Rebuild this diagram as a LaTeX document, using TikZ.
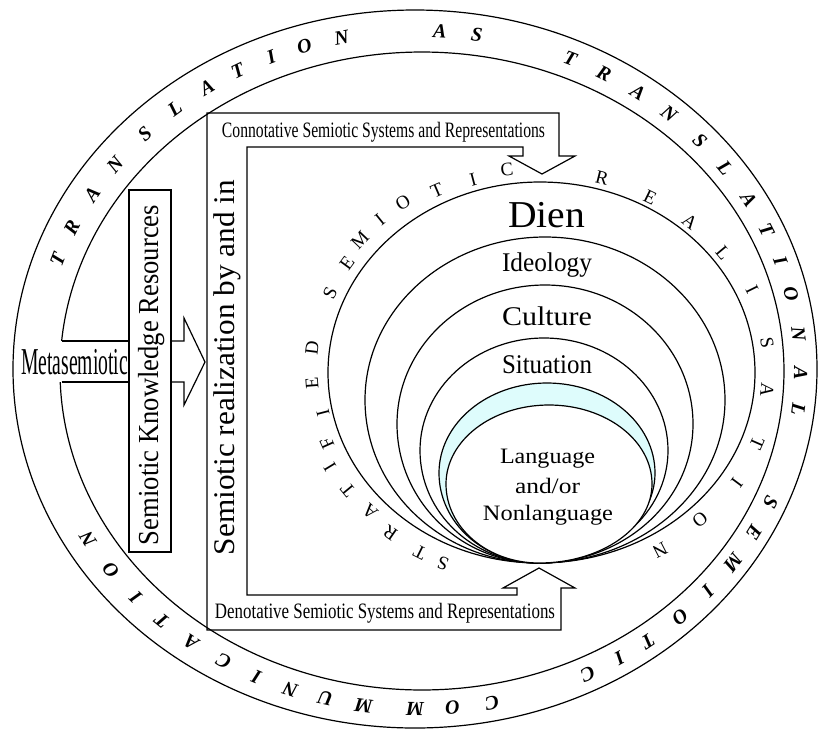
\documentclass[tikz,border=0pt]{standalone}
\usepackage{fontspec}
\setmainfont{Liberation Serif}
\usepackage{graphicx}
\definecolor{palecyan}{RGB}{222,252,252}
\newcommand{\eggshape}[5]{%
 \pgfmathsetmacro\ecy{(#5+563)/2}%
 \pgfmathsetmacro\ecA{539-0.5523*(539-#2)}%
 \pgfmathsetmacro\ecB{\ecy+0.5523*(563-\ecy)}%
 \pgfmathsetmacro\ecC{\ecy-0.5523*(\ecy-#5)}%
 \pgfmathsetmacro\ecD{#3-0.5523*(#3-#2)}%
 \pgfmathsetmacro\ecE{#3+0.5523*(#4-#3)}%
 \pgfmathsetmacro\ecF{539+0.5523*(#4-539)}%
 \path[#1] (539,563) .. controls (\ecA,563) and (#2,\ecB) .. (#2,\ecy)
   .. controls (#2,\ecC) and (\ecD,#5) .. (#3,#5)
   .. controls (\ecE,#5) and (#4,\ecC) .. (#4,\ecy)
   .. controls (#4,\ecB) and (\ecF,563) .. (539,563) -- cycle;%
}
\tikzset{
  ringbold/.style={font=\fontsize{20}{20}\selectfont\bfseries\itshape, inner sep=0pt},
  ringthin/.style={font=\fontsize{19}{19}\selectfont, inner sep=0pt},
  lbl/.style={inner sep=0pt, anchor=base},
  outline/.style={draw=black, line width=1.2pt},
}
\begin{document}
\begin{tikzpicture}[x=1pt,y=-1pt,line width=1.2pt,line join=miter]
\useasboundingbox (0,0) rectangle (819,729);

% outer ring
\draw[outline] (415,369) ellipse [x radius=402, y radius=359];
\draw[outline] plot[domain=182:534.6, samples=360, variable=\t] ({422+362*cos(\t)}, {371-319*sin(\t)});

% metasemiotic arrow and knowledge box
\coordinate (stemTL) at (61.6,341);
\coordinate (stemBL) at (61.6,382);
\draw[outline] (stemTL) -- (129,341);
\draw[outline] (stemBL) -- (129,382);
\draw[outline] (129,190) rectangle (171,552);
\draw[outline] (171,341) -- (184,341) -- (184,318) -- (205,362) -- (184,405) -- (184,382) -- (171,382);

% big frame with arrows
\draw[outline] (207,113) -- (559,113) -- (559,156) -- (575,156) -- (542,174) -- (509,156)
  -- (523,156) -- (523,147) -- (247,147) -- (247,595) -- (517,595) -- (517,588)
  -- (503,588) -- (539,568) -- (575,588) -- (561,588) -- (561,630) -- (207,630) -- cycle;

% nested shapes
\eggshape{outline,fill=white}{328}{540}{755}{182}
\eggshape{outline,fill=white}{365}{545}{725}{237}
\eggshape{outline,fill=white}{397}{545}{693}{285}
\eggshape{outline,fill=white}{420}{544}{668}{338}
\eggshape{outline,fill=palecyan}{439}{547}{655}{383}
\eggshape{outline,fill=white}{446}{549}{652}{405}

% texts
\node[lbl] (conn) at (383.5,137.3) {\resizebox{323pt}{\height}{\fontsize{22}{22}\selectfont Connotative Semiotic Systems and Representations}};
\node[lbl] (deno) at (385,618) {\resizebox{340pt}{\height}{\fontsize{22}{22}\selectfont Denotative Semiotic Systems and Representations}};
\node[lbl,rotate=90] (sreal) at (234,367.5) {\resizebox{375pt}{\height}{\fontsize{30}{30}\selectfont Semiotic realization by and in}};
\node[lbl,rotate=90] (skr) at (158,375) {\resizebox{340pt}{\height}{\fontsize{29}{29}\selectfont Semiotic Knowledge Resources}};
\node[lbl] (meta) at (74.5,374) {\resizebox{107pt}{\height}{\fontsize{38}{38}\selectfont Metasemiotic}};
\node[lbl] (dien) at (546.5,227) {\resizebox{77pt}{\height}{\fontsize{38}{38}\selectfont Dien}};
\node[lbl] (ideo) at (547,271) {\resizebox{90pt}{\height}{\fontsize{27}{27}\selectfont Ideology}};
\node[lbl] (cult) at (547,325) {\resizebox{90pt}{\height}{\fontsize{27}{27}\selectfont Culture}};
\node[lbl] (situ) at (547,373) {\resizebox{90pt}{\height}{\fontsize{27}{27}\selectfont Situation}};
\node[lbl] (lang1) at (547.5,463) {\resizebox{95pt}{\height}{\fontsize{22}{22}\selectfont Language}};
\node[lbl] (lang2) at (547.5,493) {\resizebox{65pt}{\height}{\fontsize{22}{22}\selectfont and/or}};
\node[lbl] (lang3) at (548,520) {\resizebox{130pt}{\height}{\fontsize{22}{22}\selectfont Nonlanguage}};

% outer ring letters
\foreach \ch/\px/\py [count=\k] in {T/53/258, R/70/227, A/90/193, N/113/163, S/143/132, L/173/107, A/207/88, T/237/70, I/270/55, O/303/43, N/340/32, A/440/27, S/477/33, T/573/53, R/605/72, A/640/90, N/673/110, S/703/138, L/732/163, A/753/197, T/773/227, I/783/260, O/797/293, N/807/333, A/810/373, L/807/410, S/778/505, E/761/536, M/740/567, I/713/595, O/683/620, T/653/647, I/623/663, C/590/678, C/493/707, O/453/712, M/415/713, M/363/710, U/323/707, N/287/697, I/255/680, C/220/667, A/190/643, T/160/623, I/133/600, O/107/573, N/83/542}{
  \pgfmathsetmacro\ot{atan2((370-\py)/339,(\px-418.75)/382)}
  \pgfmathsetmacro\orot{atan2(-339*cos(\ot),382*sin(\ot))}
  \pgfmathsetmacro\oxx{418.75+382*cos(\ot)}
  \pgfmathsetmacro\oyy{370-339*sin(\ot)}
  \node[ringbold,rotate=\orot] (out\k) at (\oxx,\oyy) {\ch};
}

% inner ring letters
\foreach \ch/\px/\py [count=\k] in {S/443/563, T/420/552, R/390/533, A/370/512, T/348/490, I/330/467, F/327/443, I/323/413, E/312/383, D/312/348, S/330/293, E/347/263, M/360/240, I/380/220, O/403/203, T/437/190, I/473/180, C/507/170, R/602/178, E/650/197, A/690/222, L/723/253, I/752/290, S/767/343, A/767/390, T/757/443, I/737/483, O/700/520, N/660/550}{
  \pgfmathsetmacro\irot{atan2(-(\py-370)*1.311,(\px-539))-90}
  \node[ringthin,rotate=\irot] (in\k) at (\px,\py) {\ch};
}
\end{tikzpicture}
\end{document}
